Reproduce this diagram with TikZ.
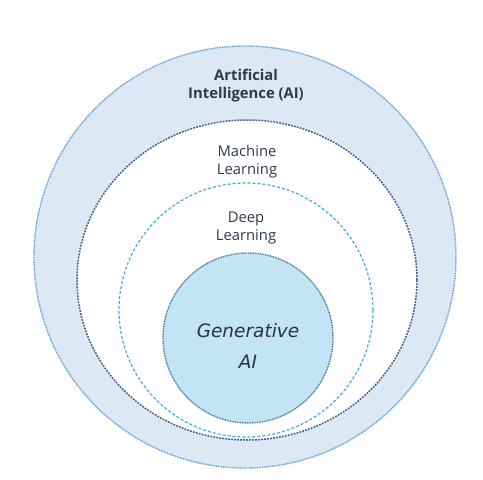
\documentclass[tikz,border=0pt]{standalone}
\usepackage{fontspec}
\setmainfont{Open Sans}
\newfontfamily\genfont{DejaVu Sans}
\usetikzlibrary{shapes.geometric}
\definecolor{outerfill}{HTML}{DCE8F4}
\definecolor{outerline}{HTML}{5B9BD5}
\definecolor{mlline}{HTML}{3F5F86}
\definecolor{dlline}{HTML}{3FAEE3}
\definecolor{genfill}{HTML}{C3E4F4}
\definecolor{genline}{HTML}{44739F}
\definecolor{txt}{HTML}{2E3B4E}
\tikzset{
  ring/.style={inner sep=0pt, outer sep=0pt},
  lbl/.style={text=txt, align=center, font=\fontsize{14.8}{18}\selectfont, inner sep=0pt},
}
\begin{document}
\begin{tikzpicture}[x=1pt,y=-1pt]
\useasboundingbox[fill=white] (0,0) rectangle (483,480);
\node[ring, circle, minimum size=422pt, fill=outerfill, draw=outerline, line width=1.4pt, dash pattern=on 0.9pt off 0.8pt] (ai) at (245,257) {};
\node[ring, ellipse, minimum width=340pt, minimum height=320pt, fill=white, draw=mlline, line width=1.5pt, dash pattern=on 1.8pt off 1.2pt] (ml) at (247,280) {};
\node[ring, circle, minimum size=254pt, fill=white, draw=dlline, line width=1.2pt, dash pattern=on 3pt off 2pt] (dl) at (246,310) {};
\node[ring, circle, minimum size=170pt, fill=genfill, draw=genline, line width=1.4pt, dash pattern=on 0.9pt off 0.8pt] (gen) at (248,338) {};
\node[lbl, font=\fontsize{14.8}{18}\selectfont\bfseries] (ailbl) at (246,86) {Artificial\\Intelligence (AI)};
\node[lbl] (mllbl) at (247,162) {Machine\\Learning};
\node[lbl] (dllbl) at (246,228) {Deep\\Learning};
\node[lbl, text=txt!90!black, font=\genfont\itshape\fontsize{18.5}{31}\selectfont] (genlbl) at (248,346) {Generative\\AI};
\end{tikzpicture}
\end{document}
